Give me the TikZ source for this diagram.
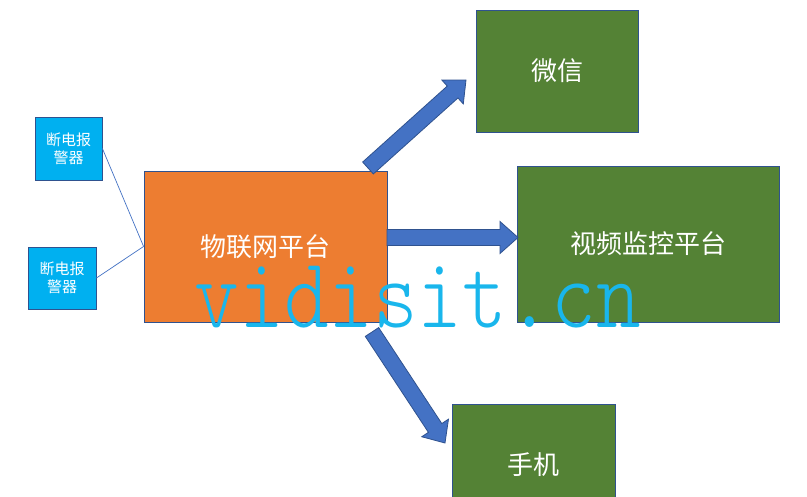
\documentclass[tikz,border=0pt]{standalone}
\usepackage{fontspec}
\newfontfamily\cjk{Noto Sans CJK SC}
\newfontfamily\wmfont{lmmonolt10-regular.otf}
\usetikzlibrary{calc}
\definecolor{orng}{HTML}{ED7D31}
\definecolor{grn}{HTML}{548235}
\definecolor{sky}{HTML}{00B0F0}
\definecolor{abl}{HTML}{4472C4}
\definecolor{edgeb}{HTML}{2F528F}
\definecolor{wm}{RGB}{25,182,236}
\newcommand\blockarr[2]{%
  \path (#1) coordinate (bt) (#2) coordinate (bh);
  \path ($(bh)!18pt!(bt)$) coordinate (bb);
  \draw[barrow] ($(bt)!8pt!90:(bh)$) -- ($(bb)!8pt!-90:(bt)$) -- ($(bb)!16pt!-90:(bt)$)
     -- (bh) -- ($(bb)!16pt!90:(bt)$) -- ($(bb)!8pt!90:(bt)$) -- ($(bt)!8pt!-90:(bh)$) -- cycle;}
\begin{document}
\begin{tikzpicture}[x=1pt,y=-1pt,
  box/.style={draw=edgeb, line width=0.8pt, inner sep=0pt, text=white, align=center,
    font=\cjk\fontsize{26}{30}\selectfont},
  small/.style={box, fill=sky, font=\cjk\fontsize{15}{18}\selectfont},
  wire/.style={draw=abl, line width=0.7pt},
  barrow/.style={fill=abl, draw=edgeb, line width=0.8pt, line join=miter}]
\useasboundingbox (0,0) rectangle (807,497);
\clip (0,0) rectangle (807,497);
\fill[white] (0,0) rectangle (807,497);
% boxes
\node[small, minimum width=67pt, minimum height=63pt] (al1) at (68.5,148.5) {断电报\\警器};
\node[small, minimum width=68pt, minimum height=62pt] (al2) at (62,278) {断电报\\警器};
\node[box, fill=orng, minimum width=243pt, minimum height=151pt] (iot) at (265.5,246.5) {物联网平台};
\node[box, fill=grn, minimum width=162pt, minimum height=122pt] (wx) at (557,71) {微信};
\node[box, fill=grn, minimum width=262pt, minimum height=156pt] (vid) at (648,244) {视频监控平台};
\node[box, fill=grn, minimum width=163pt, minimum height=122pt] (ph) at (533.5,465) {手机};
% lines
\draw[wire] (al1.east) -- (iot.west);
\draw[wire] (al2.east) -- (iot.west);
% arrow end points
\coordinate (a1s) at (368,168);
\coordinate (a1e) at (466,80);
\coordinate (a2s) at (387,237.5);
\coordinate (a2e) at (518,237.5);
\coordinate (a3s) at (372,332);
\coordinate (a3e) at (445,443);
\blockarr{a1s}{a1e}
\blockarr{a2s}{a2e}
\blockarr{a3s}{a3e}
% watermark
\node[font=\wmfont\fontsize{85}{85}\selectfont, text=wm, anchor=base, inner sep=0pt] (wmk) at (418,328) {\scalebox{1}[1.18]{vidisit.cn}};
\end{tikzpicture}
\end{document}
